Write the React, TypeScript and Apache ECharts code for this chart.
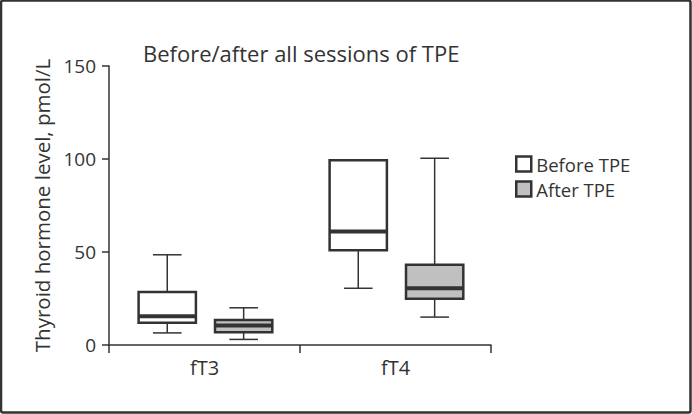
import React, { useEffect, useRef } from "react";
import * as echarts from "echarts";

const categories = ["fT3", "fT4"];
const seriesNames = ["Before TPE", "After TPE"];
// each row: [min, Q1, median, Q3, max]
const beforeTPE = [
  [6.5, 12, 15.5, 28.5, 48.5],
  [30.5, 51, 61, 99.3, 99.3],
];
const afterTPE = [
  [3, 6.8, 10.5, 13.4, 20],
  [15, 24.8, 30.5, 43.2, 100.4],
];
const yTicks = [0, 50, 100, 150];

const FONT = "Open Sans";
const INK = "#333333";

function makeRender(offsetFrac: number, fill: string) {
  return (params: any, api: any) => {
    const cat = api.value(0);
    const vals = [1, 2, 3, 4, 5].map((i) => api.value(i));
    const bw = api.size([1, 0])[0];
    const c = api.coord([cat, 0])[0] + offsetFrac * bw;
    const boxW = 0.3 * bw;
    const half = boxW / 2;
    const cap = boxW / 4;
    const y = vals.map((v: number) => api.coord([cat, v])[1]);
    const thin = { stroke: INK, lineWidth: 1.5 };
    return {
      type: "group",
      children: [
        { type: "line", shape: { x1: c, y1: y[4], x2: c, y2: y[3] }, style: thin },
        { type: "line", shape: { x1: c, y1: y[1], x2: c, y2: y[0] }, style: thin },
        { type: "line", shape: { x1: c - cap, y1: y[4], x2: c + cap, y2: y[4] }, style: thin },
        { type: "line", shape: { x1: c - cap, y1: y[0], x2: c + cap, y2: y[0] }, style: thin },
        {
          type: "rect",
          shape: { x: c - half, y: y[3], width: boxW, height: y[1] - y[3] },
          style: { fill, stroke: INK, lineWidth: 2.5 },
        },
        {
          type: "line",
          shape: { x1: c - half, y1: y[2], x2: c + half, y2: y[2] },
          style: { stroke: INK, lineWidth: 4 },
        },
      ],
    };
  };
}

export default function App() {
  const ref = useRef<HTMLDivElement>(null);
  useEffect(() => {
    document.body.style.margin = "0";
    const chart = echarts.init(ref.current!, undefined, { renderer: "svg" });
    const fills = ["#ffffff", "#c0c0c0"];
    const offsets = [-0.195, 0.205];
    const dataSets = [beforeTPE, afterTPE];
    chart.setOption({
      animation: false,
      backgroundColor: "#ffffff",
      textStyle: { fontFamily: FONT, color: INK },
      title: {
        text: "Before/after all sessions of TPE",
        left: 138,
        top: 37,
        textStyle: { fontFamily: FONT, fontSize: 22, fontWeight: "normal", color: INK },
      },
      legend: {
        orient: "vertical",
        left: 510,
        top: 148.5,
        itemWidth: 15,
        itemHeight: 15,
        itemGap: 4,
        textStyle: { fontFamily: FONT, fontSize: 18.5, lineHeight: 21, color: INK },
        data: seriesNames.map((n, i) => ({
          name: n,
          icon: "rect",
          itemStyle: { color: fills[i], borderColor: INK, borderWidth: 2.5 },
        })),
      },
      grid: { left: 109, right: 201, top: 66, bottom: 69, containLabel: false },
      xAxis: {
        type: "category",
        data: categories,
        boundaryGap: true,
        axisLine: { lineStyle: { color: INK, width: 1.5 } },
        axisTick: { show: true, length: 8, alignWithLabel: false, lineStyle: { color: INK, width: 1.5 } },
        axisLabel: { fontFamily: FONT, fontSize: 20, color: INK, margin: 12 },
        splitLine: { show: false },
      },
      yAxis: {
        type: "value",
        min: yTicks[0],
        max: yTicks[yTicks.length - 1],
        interval: yTicks[1] - yTicks[0],
        name: "Thyroid hormone level, pmol/L",
        nameLocation: "middle",
        nameRotate: 90,
        nameGap: 54,
        nameTextStyle: { fontFamily: FONT, fontSize: 20.5, color: INK },
        axisLine: { show: true, lineStyle: { color: INK, width: 1.5 } },
        axisTick: { show: true, length: 7, lineStyle: { color: INK, width: 1.5 } },
        axisLabel: { fontFamily: FONT, fontSize: 19, color: INK, margin: 13 },
        splitLine: { show: false },
      },
      graphic: [
        {
          type: "rect",
          shape: { x: 1, y: 0.5, width: 689.5, height: 412, r: 2 },
          style: { fill: "none", stroke: INK, lineWidth: 2.5 },
          silent: true,
        },
      ],
      series: seriesNames.map((n, i) => ({
        type: "custom",
        name: n,
        renderItem: makeRender(offsets[i], fills[i]),
        itemStyle: { color: fills[i], borderColor: INK },
        encode: { x: 0, y: [1, 2, 3, 4, 5] },
        data: dataSets[i].map((row, ci) => [ci, ...row]),
      })),
    });
    return () => chart.dispose();
  }, []);
  return (
    <div
      ref={ref}
      style={{ position: "absolute", left: 0, top: 0, width: 692, height: 414 }}
    />
  );
}
